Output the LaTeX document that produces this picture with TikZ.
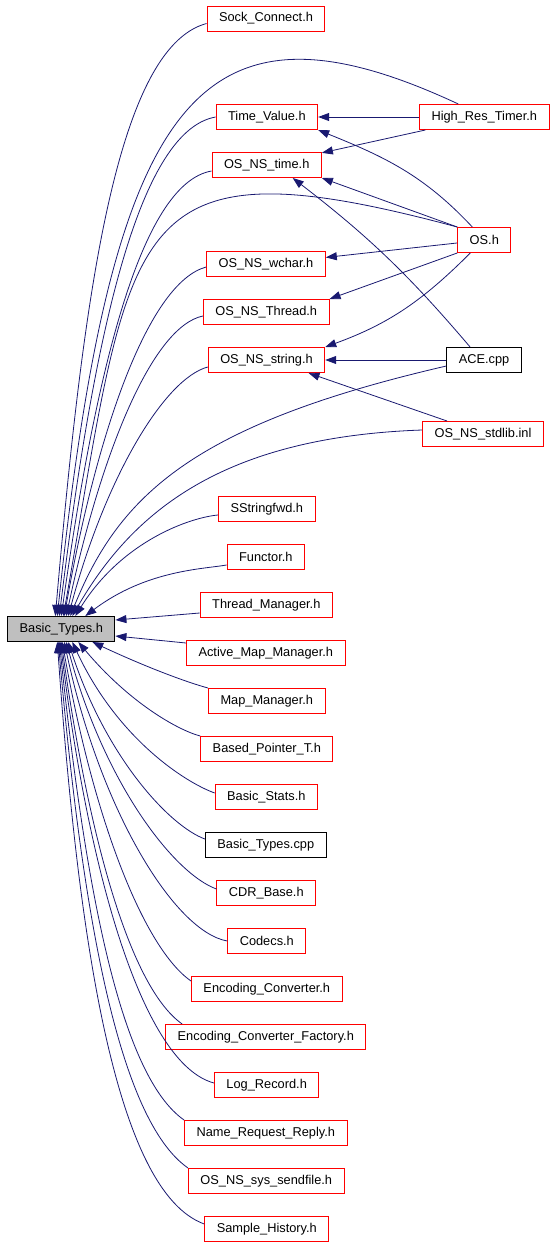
\documentclass[tikz,border=0pt]{standalone}
\usepackage{fontspec}
\setmainfont{Liberation Sans}
\usetikzlibrary{arrows.meta}
\definecolor{eBlue}{RGB}{25,25,112}
\definecolor{bRed}{RGB}{255,0,0}
\definecolor{fGray}{RGB}{191,191,191}
\begin{document}
\begin{tikzpicture}[x=1pt,y=1pt,font=\fontsize{12.8}{15}\selectfont,
  fb/.style={draw=bRed,line width=1pt,minimum height=25pt,inner xsep=12pt,inner ysep=0pt},
  kb/.style={fb,draw=black},
  dep/.style={-{Triangle[length=11pt,width=8pt]},eBlue,line width=0.8pt,out looseness=0.4,in looseness=1.3}]
  \useasboundingbox (0,0) rectangle (555,-1245);
  % root file
  \node[kb,fill=fGray] (bt) at (61.3,-629) {Basic\_Types.h};
  % files that include it
  \node[fb] (sock) at (266,-18.5) {Sock\_Connect.h};
  \node[fb] (tv) at (266.9,-117) {Time\_Value.h};
  \node[fb] (hrt) at (484.3,-117) {High\_Res\_Timer.h};
  \node[fb] (ost) at (266.7,-165) {OS\_NS\_time.h};
  \node[fb] (osh) at (484.3,-240) {OS.h};
  \node[fb] (wch) at (266,-264) {OS\_NS\_wchar.h};
  \node[fb] (thr) at (266.2,-312) {OS\_NS\_Thread.h};
  \node[fb] (str) at (266.5,-360) {OS\_NS\_string.h};
  \node[kb] (ace) at (484.1,-360) {ACE.cpp};
  \node[fb] (stdl) at (483,-434) {OS\_NS\_stdlib.inl};
  \node[fb] (ssf) at (266.8,-509) {SStringfwd.h};
  \node[fb] (fun) at (265.8,-557) {Functor.h};
  \node[fb] (tm) at (266.3,-605) {Thread\_Manager.h};
  \node[fb] (amm) at (265.8,-653) {Active\_Map\_Manager.h};
  \node[fb] (mm) at (266.8,-701) {Map\_Manager.h};
  \node[fb] (bpt) at (266.8,-749) {Based\_Pointer\_T.h};
  \node[fb] (bs) at (266.3,-797) {Basic\_Stats.h};
  \node[kb] (btc) at (265.8,-845) {Basic\_Types.cpp};
  \node[fb] (cdr) at (266.3,-893) {CDR\_Base.h};
  \node[fb] (cod) at (266.8,-941) {Codecs.h};
  \node[fb] (ec) at (266.8,-989) {Encoding\_Converter.h};
  \node[fb] (ecf) at (265.8,-1037) {Encoding\_Converter\_Factory.h};
  \node[fb] (lr) at (266.7,-1085) {Log\_Record.h};
  \node[fb] (nrr) at (265.8,-1133) {Name\_Request\_Reply.h};
  \node[fb] (sf) at (266.3,-1181) {OS\_NS\_sys\_sendfile.h};
  \node[fb] (sh) at (266.8,-1229) {Sample\_History.h};
  % edges among the upper files
  \draw[dep] (hrt) -- (tv); \draw[dep] (hrt) -- (ost);
  \draw[dep] ([xshift=-12pt]osh.north) to[out=133,in=-22,looseness=1] (tv.south east);
  \draw[dep] (osh.north west) -- (ost.south east);
  \draw[dep] ([xshift=-14pt]ace.north) to[bend right=6,looseness=1] ([xshift=26pt]ost.south);
  \draw[dep] (osh) -- (wch); \draw[dep] (osh.south west) -- (thr.north east);
  \draw[dep] ([xshift=-14pt]osh.south) to[out=225,in=20,looseness=1] (str.north east);
  \draw[dep] (ace) -- (str);
  \draw[dep] ([xshift=-36pt]stdl.north) -- ([xshift=42pt]str.south);
  % edges into Basic_Types.h from above
  \draw[dep] ([yshift=-5pt]sock.west) to[out=195,in=85] ([xshift=-6pt]bt.north);
  \draw[dep] ([xshift=-26pt]hrt.north) .. controls +(155:290) and +(84:520) .. ([xshift=-4pt]bt.north);
  \draw[dep] (tv.west) to[out=190,in=83] ([xshift=-2pt]bt.north);
  \draw[dep] ([yshift=-6pt]ost.west) to[out=190,in=82] (bt.north);
  \draw[dep] (osh.north west) .. controls +(165:350) and +(80:400) .. ([xshift=2pt]bt.north);
  \draw[dep] ([yshift=-3pt]wch.west) to[out=195,in=80] ([xshift=3pt]bt.north);
  \draw[dep] ([yshift=-4pt]thr.west) to[out=192,in=78] ([xshift=5pt]bt.north);
  \draw[dep] ([yshift=-7pt]str.west) to[out=195,in=75] ([xshift=7pt]bt.north);
  \draw[dep] ([yshift=-6pt]ace.west) .. controls +(193:260) and +(68:130) .. ([xshift=9pt]bt.north);
  \draw[dep] ([yshift=4pt]stdl.west) .. controls +(182:200) and +(60:120) .. ([xshift=11pt]bt.north);
  \draw[dep] ([yshift=-6pt]ssf.west) to[out=185,in=58] ([xshift=14pt]bt.north);
  \draw[dep] ([yshift=-8pt]fun.west) to[out=190,in=37] ([xshift=24pt]bt.north);
  % side edges
  \draw[dep] ([yshift=-8pt]tm.west) -- ([yshift=9pt]bt.east);
  \draw[dep] ([yshift=10pt]amm.west) -- ([yshift=-7pt]bt.east);
  % edges into Basic_Types.h from below
  \draw[dep] (mm.north west) to[out=165,in=-25] ([xshift=31pt]bt.south);
  \draw[dep] (bpt.north west) to[out=165,in=-50] ([xshift=17pt]bt.south);
  \draw[dep] ([yshift=4pt]bs.west) to[out=160,in=-65] ([xshift=11pt]bt.south);
  \draw[dep] ([yshift=6pt]btc.west) to[out=160,in=-72] ([xshift=7pt]bt.south);
  \draw[dep] ([yshift=4pt]cdr.west) to[out=160,in=-75] ([xshift=5pt]bt.south);
  \draw[dep] (cod.west) to[out=170,in=-78] ([xshift=3pt]bt.south);
  \draw[dep] ([yshift=8pt]ec.west) to[out=145,in=-80] ([xshift=1pt]bt.south);
  \draw[dep] ([xshift=17pt]ecf.north west) to[out=145,in=-82] (bt.south);
  \draw[dep] ([yshift=2pt]lr.west) to[out=165,in=-83] ([xshift=-1pt]bt.south);
  \draw[dep] (nrr.north west) to[out=145,in=-84] ([xshift=-2pt]bt.south);
  \draw[dep] (sf.north west) to[out=145,in=-85] ([xshift=-3pt]bt.south);
  \draw[dep] ([yshift=5pt]sh.west) to[out=160,in=-86] ([xshift=-4pt]bt.south);
\end{tikzpicture}
\end{document}
